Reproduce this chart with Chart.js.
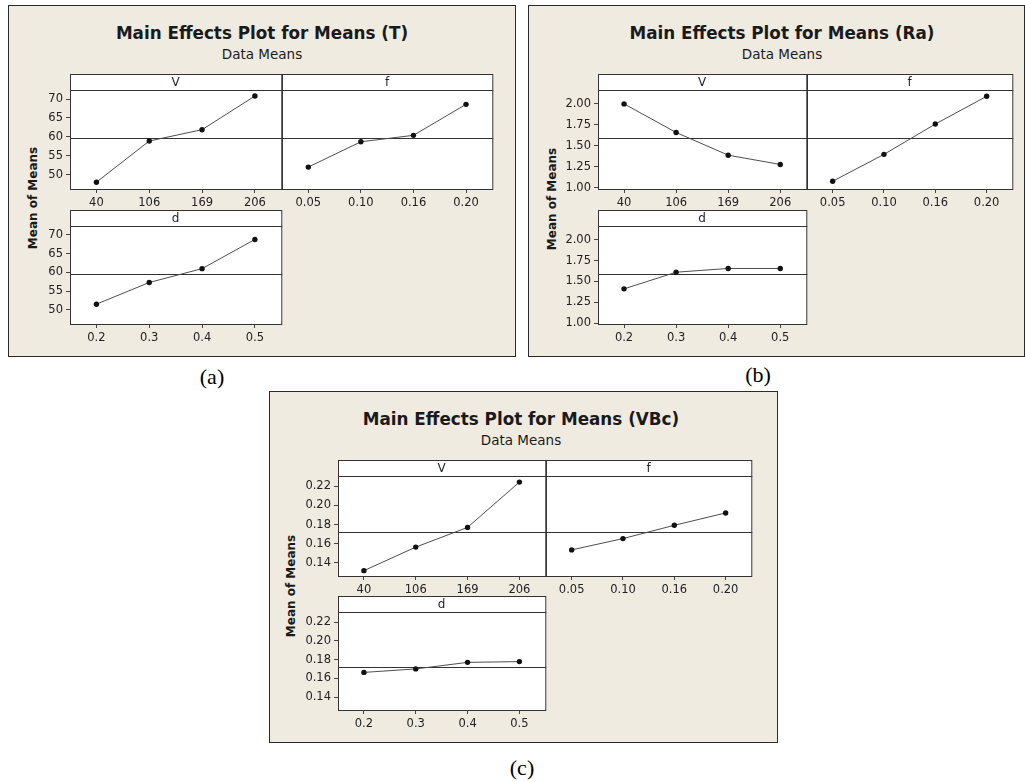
<!DOCTYPE html>
<html>
<head>
<meta charset="utf-8">
<script src="https://cdn.jsdelivr.net/npm/chart.js@4.4.0/dist/chart.umd.min.js"></script>
<style>
  html, body { margin:0; padding:0; background:#fff; }
  #page { position:relative; width:1025px; height:782px; overflow:hidden; background:#fff; }
  .panel { position:absolute; background:#EFEBE1; border:1px solid #2a2a2a; box-sizing:border-box; }
  .txt { position:absolute; white-space:nowrap; line-height:1; transform:translate(-50%,-50%); }
  .title { font-family:"DejaVu Sans", sans-serif; font-weight:bold; font-size:16.8px; color:#1a1a1a; }
  .sub { font-family:"DejaVu Sans", sans-serif; font-size:13.5px; color:#1a1a1a; }
  .ylab { font-family:"DejaVu Sans", sans-serif; font-weight:bold; font-size:12px; color:#1a1a1a; transform:translate(-50%,-50%) rotate(-90deg); }
  .cap { font-family:"Liberation Serif", serif; font-size:22px; color:#000; }
  canvas { position:absolute; }
</style>
</head>
<body>
<div id="page"></div>
<script>
// ---------- data ----------
const levelsV = ['40', '106', '169', '206'];
const levelsF = ['0.05', '0.10', '0.16', '0.20'];
const levelsD = ['0.2', '0.3', '0.4', '0.5'];

const meansT_V = [48.0, 58.9, 61.9, 70.8];
const meansT_f = [52.0, 58.7, 60.4, 68.6];
const meansT_d = [51.5, 57.3, 61.0, 68.8];
const grandMeanT = 59.7;
const ticksT = [50, 55, 60, 65, 70];

const meansRa_V = [2.00, 1.66, 1.39, 1.28];
const meansRa_f = [1.08, 1.40, 1.76, 2.09];
const meansRa_d = [1.41, 1.61, 1.655, 1.655];
const grandMeanRa = 1.59;
const ticksRa = [1.00, 1.25, 1.50, 1.75, 2.00];

const meansVBc_V = [0.1318, 0.1564, 0.177, 0.2243];
const meansVBc_f = [0.1535, 0.1653, 0.1792, 0.1921];
const meansVBc_d = [0.1663, 0.170, 0.177, 0.1778];
const grandMeanVBc = 0.1725;
const ticksVBc = [0.14, 0.16, 0.18, 0.20, 0.22];

// ---------- layout ----------
const page = document.getElementById('page');
const FONT = 'DejaVu Sans';

function addDiv(cls, text, x, y, extra) {
  const d = document.createElement('div');
  d.className = cls;
  d.textContent = text;
  d.style.left = x + 'px';
  d.style.top = y + 'px';
  if (extra) Object.assign(d.style, extra);
  page.appendChild(d);
  return d;
}
function addPanel(l, t, r, b) {
  const d = document.createElement('div');
  d.className = 'panel';
  d.style.left = l + 'px'; d.style.top = t + 'px';
  d.style.width = (r - l + 1) + 'px'; d.style.height = (b - t + 1) + 'px';
  page.appendChild(d);
}

const framePlugin = {
  id: 'frame',
  beforeDraw(chart) {
    const { ctx, chartArea: a } = chart;
    ctx.save();
    ctx.fillStyle = '#ffffff';
    ctx.fillRect(a.left, 0, a.right - a.left + 1, a.bottom + 1);
    ctx.restore();
  },
  beforeDatasetsDraw(chart, args, opts) {
    const { ctx, chartArea: a } = chart;
    const y = Math.round(chart.scales.y.getPixelForValue(opts.mean)) + 0.5;
    ctx.save();
    ctx.strokeStyle = '#333';
    ctx.lineWidth = 1;
    ctx.beginPath();
    ctx.moveTo(a.left, y); ctx.lineTo(a.right + 1, y);
    ctx.stroke();
    ctx.restore();
  },
  afterDraw(chart) {
    const { ctx, chartArea: a } = chart;
    ctx.save();
    ctx.strokeStyle = '#333';
    ctx.lineWidth = 1;
    ctx.strokeRect(a.left + 0.5, 0.5, a.right - a.left, a.bottom);
    ctx.beginPath();
    ctx.moveTo(a.left, a.top + 0.5); ctx.lineTo(a.right + 1, a.top + 0.5);
    ctx.stroke();
    ctx.restore();
  }
};

function subplot(o) {
  const c = document.createElement('canvas');
  const w = o.R - o.L + 52, h = o.B - o.H + 26;
  c.width = w; c.height = h;
  c.style.width = w + 'px'; c.style.height = h + 'px';
  c.style.left = (o.L - 50) + 'px';
  c.style.top = o.H + 'px';
  page.appendChild(c);
  const tickFont = { family: FONT, size: 11.5 };
  new Chart(c, {
    type: 'line',
    data: {
      labels: o.labels,
      datasets: [{
        data: o.values,
        borderColor: '#4e4e4e',
        borderWidth: 1,
        tension: 0,
        pointRadius: 2.7,
        pointHoverRadius: 2.7,
        pointBackgroundColor: '#111',
        pointBorderColor: '#111',
        pointBorderWidth: 0
      }]
    },
    options: {
      responsive: false,
      animation: false,
      events: [],
      layout: { padding: { left: 0, right: 2, top: 0, bottom: 0 } },
      plugins: {
        legend: { display: false },
        tooltip: { enabled: false },
        title: {
          display: true, text: o.header, fullSize: false,
          font: { family: FONT, size: 12, lineHeight: 1, weight: 'normal' },
          color: '#23233a', padding: { top: 3, bottom: 1 }
        },
        frame: { mean: o.mean }
      },
      scales: {
        x: {
          type: 'category', offset: true,
          grid: { offset: false, drawOnChartArea: false, drawTicks: true, tickLength: 4, color: '#444' },
          border: { display: false },
          ticks: { font: tickFont, color: '#222', padding: 3, maxRotation: 0, autoSkip: false },
          afterFit: s => { s.height = 24; }
        },
        y: {
          type: 'linear', min: o.min, max: o.max,
          afterBuildTicks: s => { s.ticks = o.ticks.map(v => ({ value: v })); },
          ticks: { display: o.showY, font: tickFont, color: '#222', padding: 3,
                   callback: v => Number(v).toFixed(o.dec) },
          grid: { display: o.showY, drawOnChartArea: false, drawTicks: true, tickLength: 4, color: '#444' },
          border: { display: false },
          afterFit: s => { s.width = 50; }
        }
      }
    },
    plugins: [framePlugin]
  });
}

// ---------- panels ----------
addPanel(8, 5, 515, 356);
addPanel(528, 5, 1024, 356);
addPanel(269, 391, 777, 742);

addDiv('txt title', 'Main Effects Plot for Means (T)', 262, 33);
addDiv('txt sub', 'Data Means', 262, 55);
addDiv('txt ylab', 'Mean of Means', 32.5, 198);

addDiv('txt title', 'Main Effects Plot for Means (Ra)', 782, 33);
addDiv('txt sub', 'Data Means', 782, 55);
addDiv('txt ylab', 'Mean of Means', 551.5, 199);

addDiv('txt title', 'Main Effects Plot for Means (VBc)', 521, 418.5);
addDiv('txt sub', 'Data Means', 521, 441);
addDiv('txt ylab', 'Mean of Means', 290.5, 586);

addDiv('txt cap', '(a)', 212, 377);
addDiv('txt cap', '(b)', 758, 375);
addDiv('txt cap', '(c)', 522, 768);

// (a) T
const tCfg = { min: 46.2, max: 72.4, ticks: ticksT, dec: 0, mean: grandMeanT };
subplot(Object.assign({}, tCfg, { L: 70, R: 282, H: 74, B: 187, header: 'V', labels: levelsV, values: meansT_V, showY: true }));
subplot(Object.assign({}, tCfg, { L: 282, R: 493, H: 74, B: 187, header: 'f', labels: levelsF, values: meansT_f, showY: false }));
subplot(Object.assign({}, tCfg, { L: 70, R: 282, H: 210, B: 322, header: 'd', labels: levelsD, values: meansT_d, showY: true }));

// (b) Ra
const rCfg = { min: 0.988, max: 2.165, ticks: ticksRa, dec: 2, mean: grandMeanRa };
subplot(Object.assign({}, rCfg, { L: 598, R: 807, H: 74, B: 187, header: 'V', labels: levelsV, values: meansRa_V, showY: true }));
subplot(Object.assign({}, rCfg, { L: 807, R: 1013, H: 74, B: 187, header: 'f', labels: levelsF, values: meansRa_f, showY: false }));
subplot(Object.assign({}, rCfg, { L: 598, R: 807, H: 210, B: 322, header: 'd', labels: levelsD, values: meansRa_d, showY: true }));

// (c) VBc
const vCfg = { min: 0.1262, max: 0.2307, ticks: ticksVBc, dec: 2, mean: grandMeanVBc };
subplot(Object.assign({}, vCfg, { L: 338, R: 546, H: 460, B: 574, header: 'V', labels: levelsV, values: meansVBc_V, showY: true }));
subplot(Object.assign({}, vCfg, { L: 546, R: 752, H: 460, B: 574, header: 'f', labels: levelsF, values: meansVBc_f, showY: false }));
subplot(Object.assign({}, vCfg, { L: 338, R: 546, H: 596, B: 708, header: 'd', labels: levelsD, values: meansVBc_d, showY: true }));
</script>
</body>
</html>
